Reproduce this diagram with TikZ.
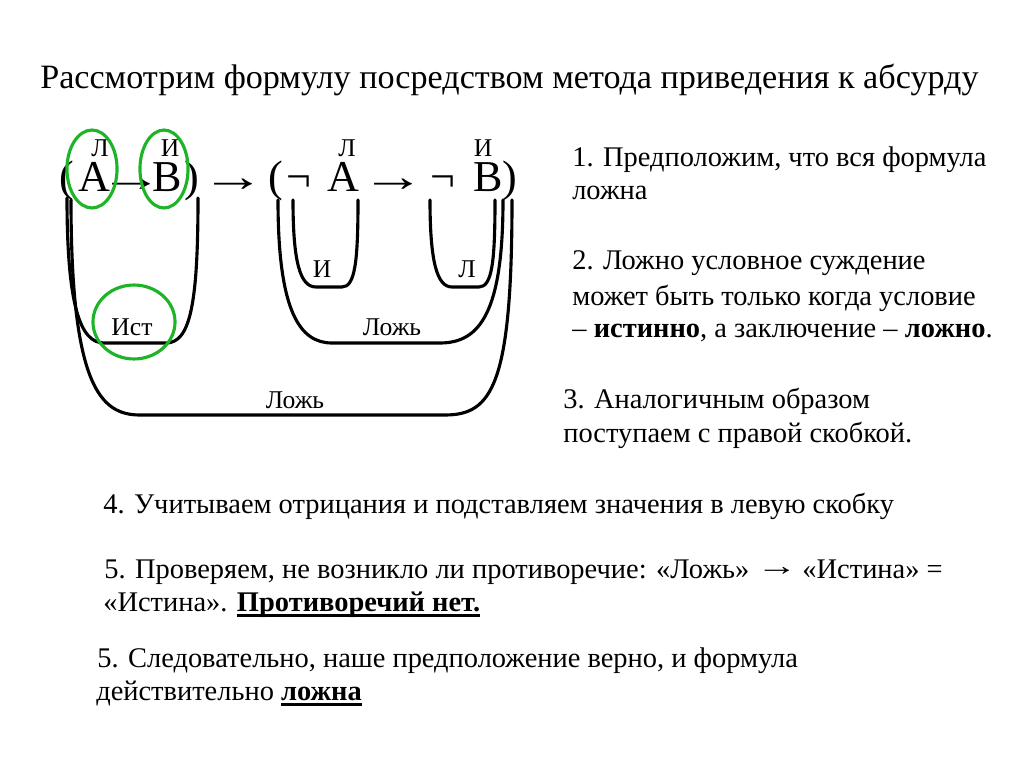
\documentclass[tikz,border=0pt]{standalone}
\usepackage{fontspec}
\usepackage{graphicx}
\setmainfont{Liberation Serif}
\usetikzlibrary{shapes.geometric}
\definecolor{ringgreen}{RGB}{30,180,40}
\newcommand{\thickul}[1]{\setbox0=\hbox{#1}\leavevmode\rlap{\rule[-4.2pt]{\wd0}{2pt}}\box0}
\newcommand{\wideto}{\scalebox{1.45}[1]{→}}
\begin{document}
\begin{tikzpicture}[x=0.703125pt,y=-0.703125pt,
  txt/.style={anchor=base west,inner sep=0pt,font=\fontsize{20}{24}\selectfont},
  ttl/.style={anchor=base west,inner sep=0pt,font=\fontsize{24}{28}\selectfont},
  sym/.style={anchor=base,inner sep=0pt,font=\fontsize{31}{36}\selectfont},
  lbl/.style={anchor=base,inner sep=0pt,font=\fontsize{18}{22}\selectfont},
  ucurve/.style={line width=2.2pt,line cap=round,line join=round},
  ring/.style={draw=ringgreen,line width=2.2pt,ellipse,inner sep=0pt}]
\fill[white] (0,0) rectangle (1024,768);
\useasboundingbox (0,0) rectangle (1024,768);

% title
\node[ttl] (title) at (40,89) {Рассмотрим формулу посредством метода приведения к абсурду};

% formula
\node[sym] (lp1) at (67,192) {(};
\node[sym] (fa1) at (94,192) {A};
\node[sym] (im1) at (131,192) {\wideto};
\node[sym] (fb1) at (167,192) {B};
\node[sym] (rp1) at (192,192) {)};
\node[sym] (im0) at (233,192) {\wideto};
\node[sym] (lp2) at (276,192) {(};
\node[sym] (ng1) at (299,192) {¬};
\node[sym] (fa2) at (343,192) {A};
\node[sym] (im2) at (393,192) {\wideto};
\node[sym] (ng2) at (443,192) {¬};
\node[sym] (fb2) at (488,192) {B};
\node[sym] (rp2) at (510,192) {)};

% labels above
\node[lbl] (la1) at (100,157) {Л};
\node[lbl] (lb1) at (170,157) {И};
\node[lbl] (la2) at (347,157) {Л};
\node[lbl] (lb2) at (483,157) {И};

% U curves
\draw[ucurve] (67,198) .. controls (67,305) and (80,343) .. (104,343) -- (166,343) .. controls (190,343) and (198,305) .. (198,198);
\draw[ucurve] (71,200) .. controls (71,385) and (100,415) .. (140,415) -- (445,415) .. controls (492,415) and (512,385) .. (512,200);
\draw[ucurve] (278,200) .. controls (278,312) and (300,343) .. (332,343) -- (440,343) .. controls (480,343) and (503,312) .. (503,200);
\draw[ucurve] (293,200) .. controls (293,262) and (300,287) .. (316,287) -- (342,287) .. controls (355,287) and (358,262) .. (358,200);
\draw[ucurve] (430,200) .. controls (430,262) and (437,287) .. (452,287) -- (479,287) .. controls (492,287) and (495,262) .. (495,200);

% labels below
\node[lbl] (ist) at (132,335) {Ист};
\node[lbl] (li) at (322,278) {И};
\node[lbl] (ll) at (467,278) {Л};
\node[lbl] (lozh1) at (392,335) {Ложь};
\node[lbl] (lozh2) at (295,408) {Ложь};

% green rings
\node[ring,minimum width=35.2pt,minimum height=54.8pt] (ringA) at (92,169) {};
\node[ring,minimum width=33.8pt,minimum height=54.8pt] (ringB) at (164,169) {};
\node[ring,minimum width=57.7pt,minimum height=52pt] (ringI) at (134,322) {};

% right text
\node[txt] (t1a) at (572,167) {1. Предположим, что вся формула};
\node[txt] (t1b) at (572,200) {ложна};
\node[txt] (t2a) at (572,270) {2. Ложно условное суждение};
\node[txt] (t2b) at (572,305) {может быть только когда условие};
\node[txt] (t2c) at (572,338) {– \textbf{истинно}, а заключение – \textbf{ложно}.};
\node[txt] (t3a) at (563,408) {3. Аналогичным образом};
\node[txt] (t3b) at (563,442) {поступаем с правой скобкой.};

% bottom text
\node[txt] (t4) at (103,513) {4. Учитываем отрицания и подставляем значения в левую скобку};
\node[txt] (t5a) at (104,578) {5. Проверяем, не возникло ли противоречие: «Ложь» \raisebox{1.5pt}{\wideto}\,«Истина» =};
\node[txt] (t5b) at (103,611) {«Истина». \thickul{\textbf{Противоречий нет.}}};
\node[txt] (t6a) at (97,667) {5. Следовательно, наше предположение верно, и формула};
\node[txt] (t6b) at (96,700) {действительно \thickul{\textbf{ложна}}};
\end{tikzpicture}
\end{document}
